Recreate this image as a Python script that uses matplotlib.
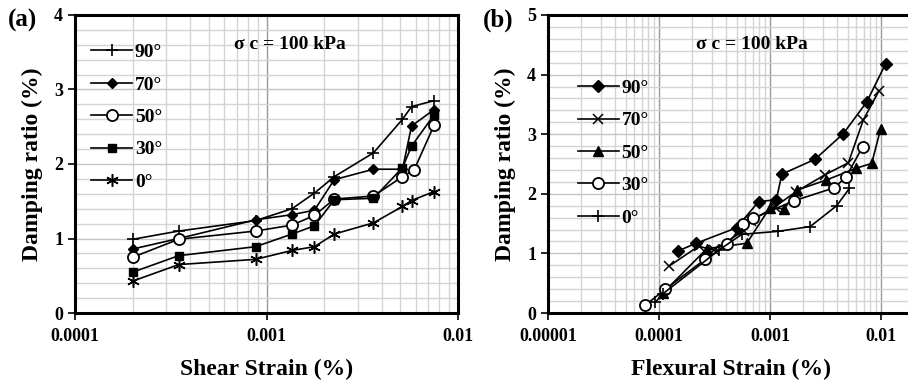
import numpy as np
import matplotlib
matplotlib.use('Agg')
import matplotlib.pyplot as plt
from matplotlib.ticker import LogLocator, MultipleLocator, FixedLocator

plt.rcParams['font.family'] = ['Liberation Serif', 'DejaVu Serif']
plt.rcParams['font.weight'] = 'bold'

# (a) shear strain vs damping ratio
shear_x = [0.000201, 0.000348, 0.000877, 0.00136, 0.00178, 0.00226, 0.00362, 0.00513, 0.00572, 0.0075]
shear_x50 = [0.000201, 0.000348, 0.000877, 0.00136, 0.00178, 0.00226, 0.00362, 0.00513, 0.0059, 0.0075]
shear_90 = [0.99, 1.10, 1.24, 1.40, 1.61, 1.83, 2.15, 2.60, 2.77, 2.85]
shear_70 = [0.86, 1.00, 1.25, 1.32, 1.38, 1.79, 1.93, 1.93, 2.51, 2.73]
shear_50 = [0.75, 0.99, 1.10, 1.18, 1.31, 1.53, 1.57, 1.83, 1.92, 2.52]
shear_30 = [0.55, 0.77, 0.89, 1.06, 1.17, 1.52, 1.54, 1.95, 2.24, 2.66]
shear_0 = [0.43, 0.65, 0.72, 0.84, 0.89, 1.06, 1.21, 1.43, 1.51, 1.63]

# (b) flexural strain vs damping ratio
flex_x90 = [0.000148, 0.000216, 0.000500, 0.000790, 0.00114, 0.00128, 0.00255, 0.00458, 0.00743, 0.0110]
flex_90 = [1.04, 1.17, 1.43, 1.87, 1.90, 2.33, 2.58, 3.01, 3.54, 4.18]
flex_x70 = [0.000124, 0.000227, 0.000310, 0.000580, 0.000680, 0.00110, 0.00170, 0.00313, 0.00508, 0.00693, 0.00960]
flex_70 = [0.79, 1.12, 1.06, 1.38, 1.55, 1.78, 2.03, 2.32, 2.52, 3.24, 3.73]
flex_x50 = [0.000108, 0.000270, 0.000618, 0.000990, 0.00135, 0.00174, 0.00320, 0.00600, 0.00824, 0.00993]
flex_50 = [0.33, 1.08, 1.17, 1.76, 1.75, 2.06, 2.23, 2.43, 2.51, 3.09]
flex_x30 = [0.0000752, 0.000114, 0.000260, 0.000414, 0.000577, 0.000710, 0.00163, 0.00378, 0.00484, 0.00684]
flex_30 = [0.13, 0.40, 0.90, 1.15, 1.50, 1.59, 1.88, 2.10, 2.28, 2.79]
flex_x0 = [0.0000925, 0.000108, 0.000350, 0.000557, 0.00118, 0.00230, 0.00399, 0.00519]
flex_0 = [0.18, 0.32, 1.06, 1.32, 1.37, 1.45, 1.80, 2.09]

fig = plt.figure(figsize=(9.08, 3.85), dpi=100)
ax1 = fig.add_axes([75 / 908, 72 / 385, 383 / 908, 298 / 385])
ax2 = fig.add_axes([548 / 908, 72 / 385, 444 / 908, 298 / 385])

line_kw = dict(color='black', lw=1.2)


def style_axes(ax, xlim, ymax, xticks, xlabels):
    ax.set_xscale('log')
    ax.set_xlim(*xlim)
    ax.set_ylim(0, ymax)
    ax.xaxis.set_major_locator(FixedLocator(xticks))
    ax.set_xticklabels(xlabels)
    ax.xaxis.set_minor_locator(LogLocator(base=10, subs=np.arange(2, 10)))
    ax.yaxis.set_major_locator(MultipleLocator(1))
    ax.yaxis.set_minor_locator(MultipleLocator(0.2))
    ax.grid(which='minor', color='#d4d4d4', lw=1.0)
    ax.grid(which='major', axis='y', color='#c4c4c4', lw=1.0)
    ax.grid(which='major', axis='x', color='#9a9a9a', lw=1.0)
    ax.set_axisbelow(True)
    for s in ax.spines.values():
        s.set_linewidth(2.2)
    ax.tick_params(which='major', length=5, width=1.2, labelsize=13)
    ax.tick_params(axis='x', which='major', pad=6)
    ax.tick_params(which='minor', length=0)
    for lab in ax.get_xticklabels() + ax.get_yticklabels():
        lab.set_fontweight('bold')
    ax.set_ylabel('Damping ratio (%)', fontsize=17, fontweight='bold', labelpad=8)


# panel (a)
ax1.plot(shear_x, shear_90, marker='+', ms=8, mew=1.2, label='90°', **line_kw)
ax1.plot(shear_x, shear_70, marker='D', ms=5.5, mfc='black', label='70°', **line_kw)
ax1.plot(shear_x50, shear_50, marker='o', ms=8, mfc='white', mew=1.3, label='50°', **line_kw)
ax1.plot(shear_x, shear_30, marker='s', ms=6, mfc='black', label='30°', **line_kw)
ax1.plot(shear_x, shear_0, marker=(6, 2, 0), ms=9, mew=1.1, label='0°', **line_kw)
style_axes(ax1, (1e-4, 1e-2), 4, [1e-4, 1e-3, 1e-2], ['0.0001', '0.001', '0.01'])
ax1.set_xlabel('Shear Strain (%)', fontsize=17, fontweight='bold')
ax1.xaxis.set_label_coords(0.501, -0.155)
ax1.text(0.56, 0.9, 'σ c = 100 kPa', transform=ax1.transAxes, ha='center', va='center',
         fontsize=14, fontweight='bold')
ax1.legend(loc='upper left', bbox_to_anchor=(0.022, 0.93), frameon=False, fontsize=14,
           handlelength=2.1, handletextpad=0.15, labelspacing=0.76, borderaxespad=0)
fig.text(8 / 908, 1 - 20 / 385, '(a)', fontsize=18, fontweight='bold', va='center')

# panel (b)
ax2.plot(flex_x90, flex_90, marker='D', ms=6, mfc='black', label='90°', **line_kw)
ax2.plot(flex_x70, flex_70, marker='x', ms=7, mew=1.1, label='70°', **line_kw)
ax2.plot(flex_x50, flex_50, marker='^', ms=7, mfc='black', label='50°', **line_kw)
ax2.plot(flex_x30, flex_30, marker='o', ms=8, mfc='white', mew=1.3, label='30°', **line_kw)
ax2.plot(flex_x0, flex_0, marker='+', ms=8, mew=1.2, label='0°', **line_kw)
style_axes(ax2, (1e-5, 1e-1), 5, [1e-5, 1e-4, 1e-3, 1e-2], ['0.00001', '0.0001', '0.001', '0.01'])
ax2.set_xlabel('Flexural Strain (%)', fontsize=17, fontweight='bold')
ax2.xaxis.set_label_coords(0.412, -0.155)
ax2.text(204 / 444, 0.9, 'σ c = 100 kPa', transform=ax2.transAxes, ha='center', va='center',
         fontsize=14, fontweight='bold')
ax2.legend(loc='upper left', bbox_to_anchor=(22 / 444, 0.81), frameon=False, fontsize=14,
           handlelength=2.1, handletextpad=0.15, labelspacing=0.76, borderaxespad=0)
fig.text(483 / 908, 1 - 20 / 385, '(b)', fontsize=18, fontweight='bold', va='center')

fig.savefig('out.png', dpi=100)
